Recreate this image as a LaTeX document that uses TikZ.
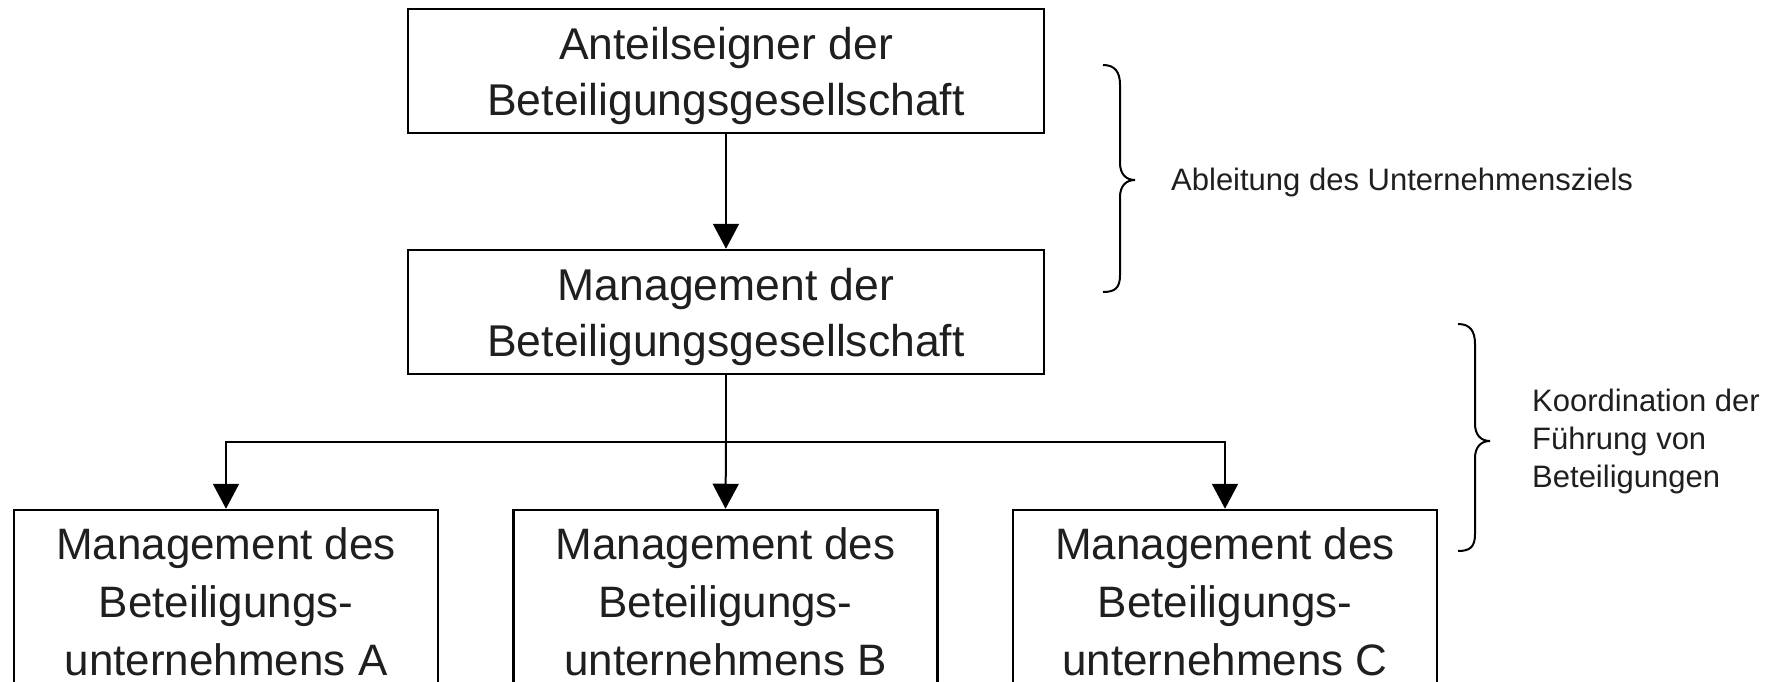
\documentclass[tikz,border=0pt]{standalone}
\usepackage{fontspec}
\setmainfont{Liberation Sans}
\usetikzlibrary{arrows.meta}
\tikzset{
  box/.style={draw=black, line width=2.5pt, inner sep=0pt, align=center,
    text=black!88},
  topbox/.style={box, minimum width=636pt, minimum height=124pt},
  boxtext/.style={font=\fontsize{44.5}{56}\selectfont, align=center,
    text=black!88, inner sep=0pt, yshift=-5pt},
  lowbox/.style={box, minimum width=424pt, minimum height=184pt,
    font=\fontsize{44}{58}\selectfont},
  conn/.style={line width=2pt, -{Triangle[width=26pt,length=25pt]}},
  plain/.style={line width=2pt},
  brace/.style={line width=2pt},
  note/.style={font=\fontsize{31}{38}\selectfont, text=black!88, align=left, inner sep=0pt}
}
\begin{document}
\begin{tikzpicture}[x=1pt,y=-1pt]
\useasboundingbox (0,0) rectangle (1782,682);
\clip (0,0) rectangle (1782,682);
\node[topbox, label={[boxtext]center:Anteilseigner der\\Beteiligungsgesellschaft}] (top) at (726,71) {};
\node[topbox, label={[boxtext]center:Management der\\Beteiligungsgesellschaft}] (mid) at (726,312) {};
\node[lowbox] (A) at (226,602) {Management des\\Beteiligungs-\\unternehmens A};
\node[lowbox] (B) at (725.5,602) {Management des\\Beteiligungs-\\unternehmens B};
\node[lowbox] (C) at (1225,602) {Management des\\Beteiligungs-\\unternehmens C};
\coordinate (j) at (726,442);
\draw[conn] (top.south) -- (mid.north);
\draw[plain] (mid.south) -- (j);
\draw[conn] (j) -| (A.north);
\draw[conn] (j) -- (B.north);
\draw[conn] (j) -| (C.north);
% brace 1
\draw[brace] (1103,65) .. controls (1115,65) and (1120,72) .. (1120,85)
  -- (1120,163) .. controls (1120,174) and (1126,180) .. (1135,180)
  .. controls (1126,180) and (1120,186) .. (1120,197)
  -- (1120,275) .. controls (1120,288) and (1115,292) .. (1103,292);
\node[note, anchor=west] (n1) at (1171,182) {Ableitung des Unternehmensziels};
% brace 2
\draw[brace] (1458,324) .. controls (1470,324) and (1475,331) .. (1475,344)
  -- (1475,424) .. controls (1475,435) and (1481,441) .. (1490,441)
  .. controls (1481,441) and (1475,447) .. (1475,458)
  -- (1475,534) .. controls (1475,547) and (1470,551) .. (1458,551);
\node[note, anchor=west] (n2) at (1532,441) {Koordination der\\Führung von\\Beteiligungen};
\end{tikzpicture}
\end{document}
